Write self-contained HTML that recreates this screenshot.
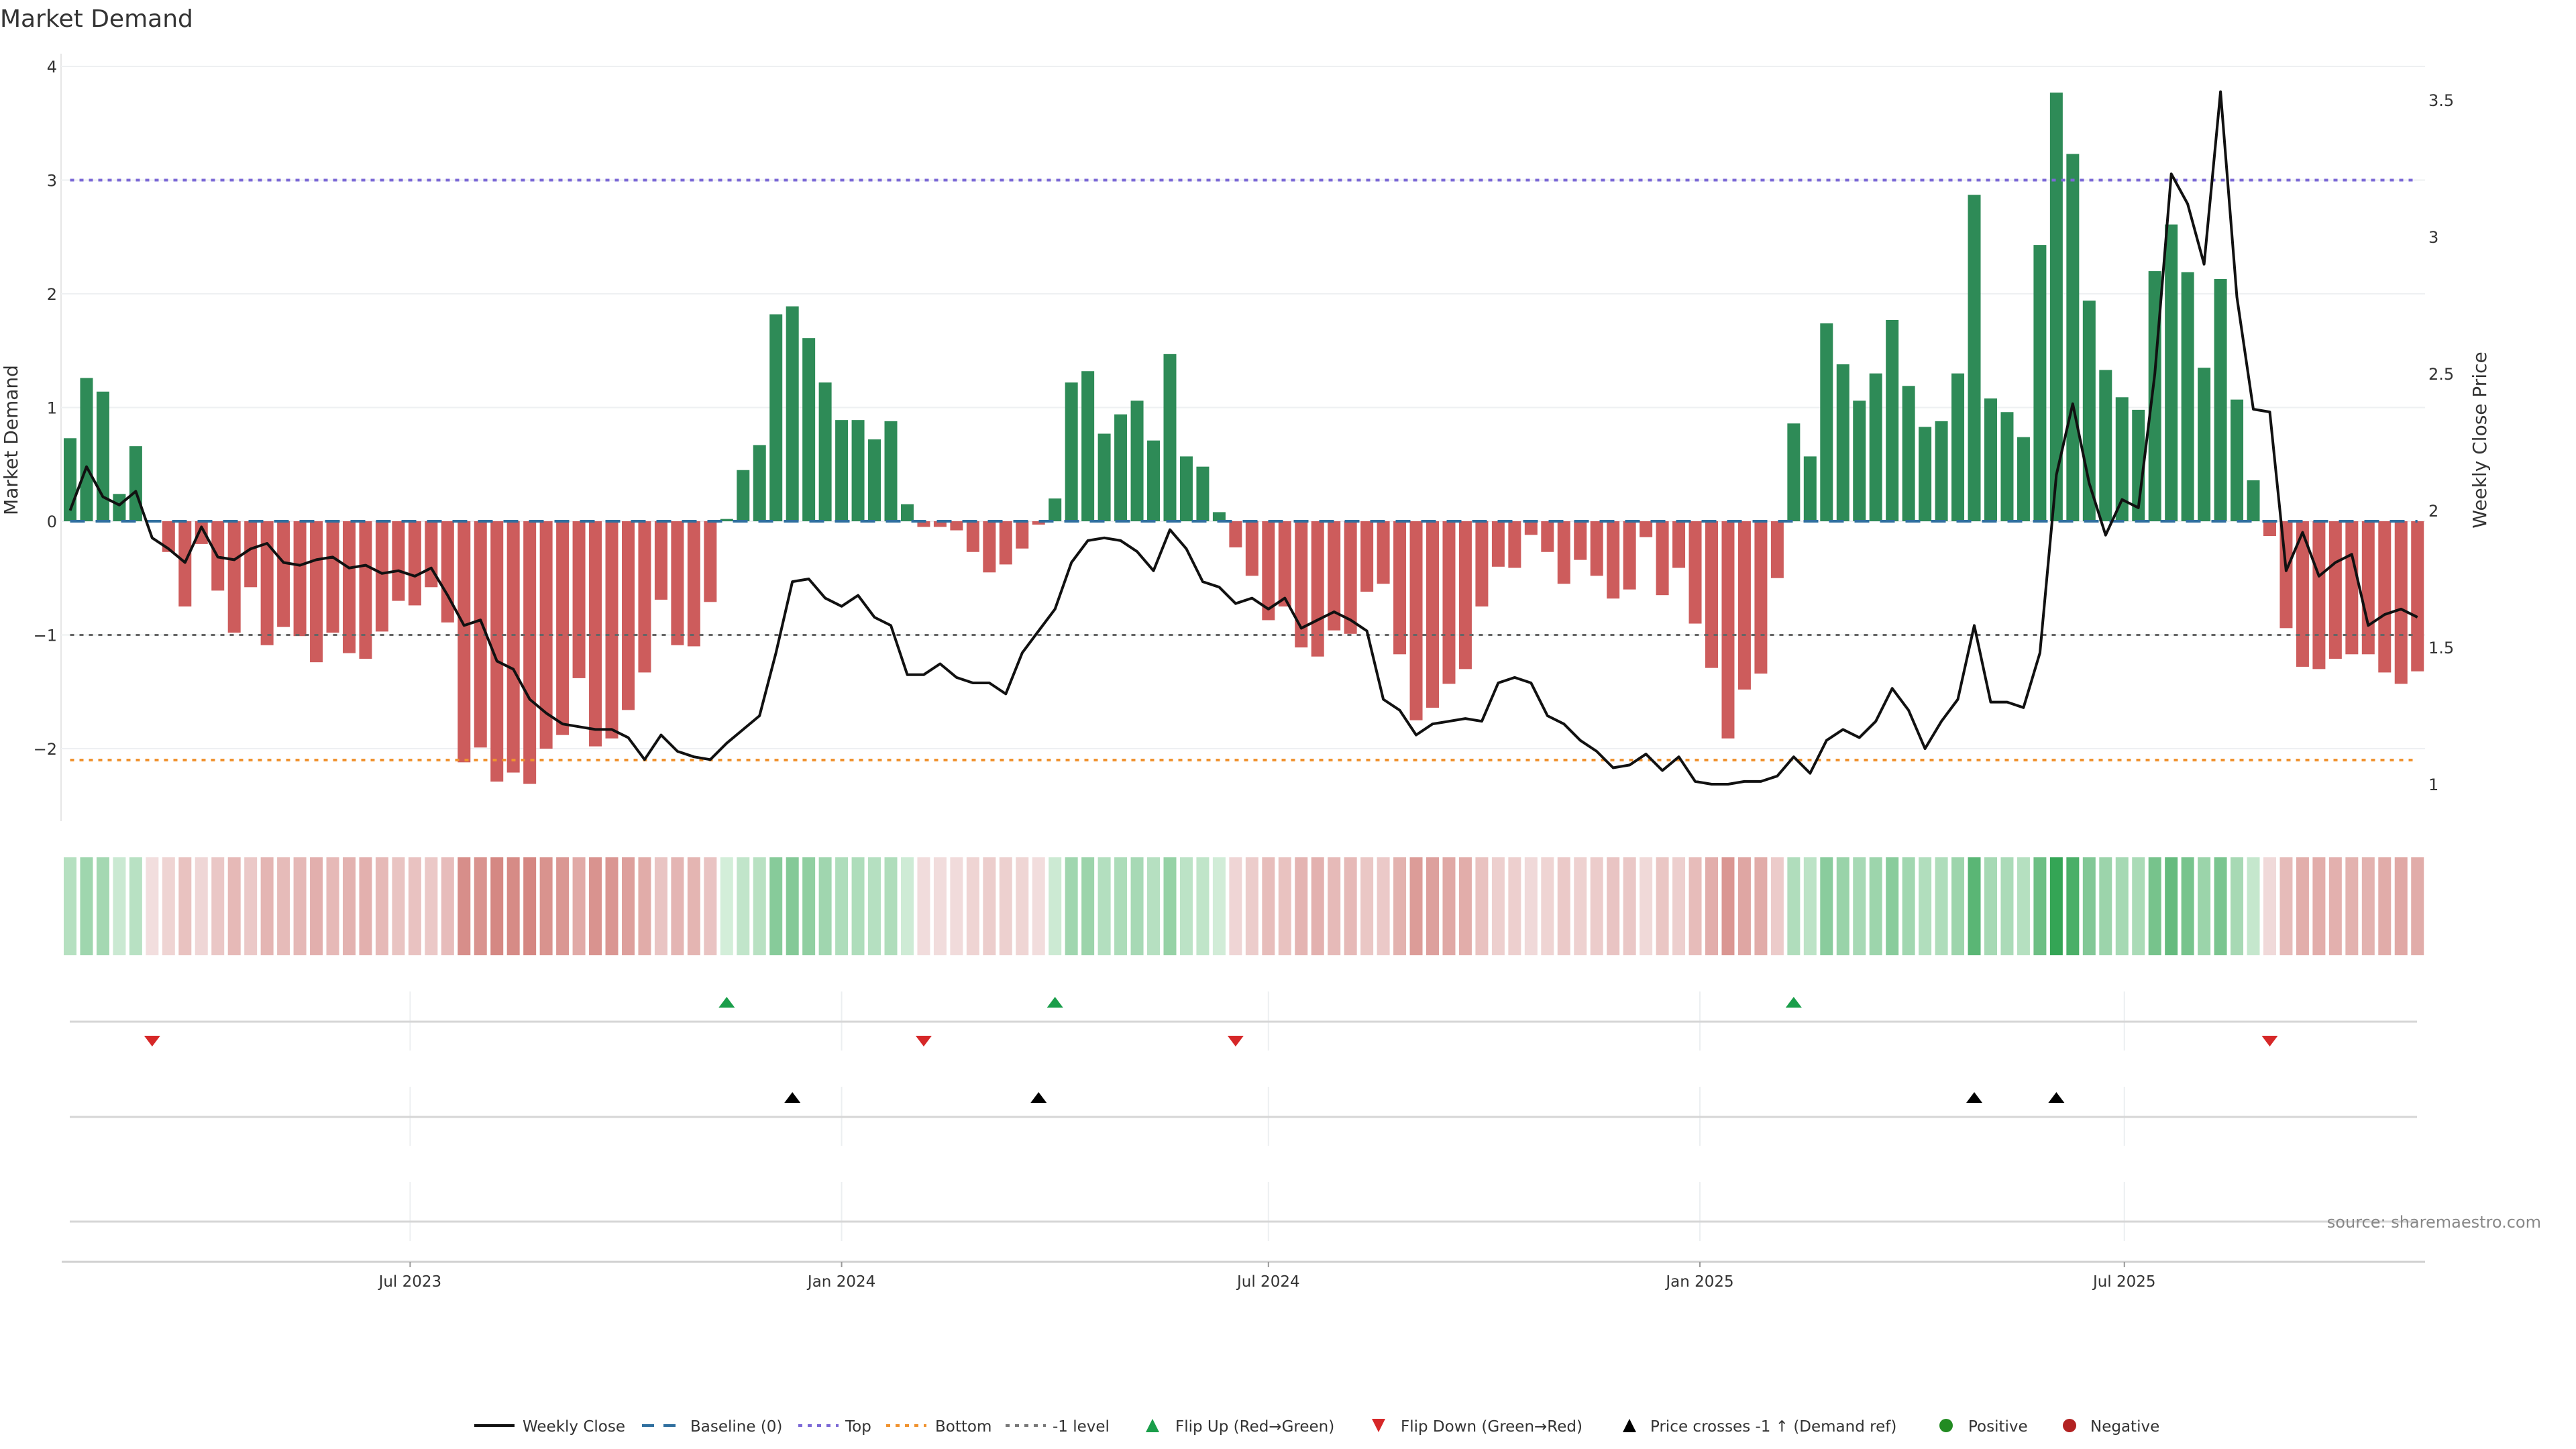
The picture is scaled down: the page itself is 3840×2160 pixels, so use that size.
<!DOCTYPE html>
<html><head><meta charset="utf-8"><title>Market Demand</title>
<style>
html,body{margin:0;padding:0;background:#fff;}
svg{display:block;font-family:"DejaVu Sans","Liberation Sans",sans-serif;}
</style></head>
<body>
<svg id="chart" width="3840" height="2160" viewBox="0 0 3840 2160" xmlns="http://www.w3.org/2000/svg">
<rect x="0" y="0" width="3840" height="2160" fill="#fff"/>
<text x="0" y="40" font-size="36" fill="#333">Market Demand</text>
<text transform="translate(26,656) rotate(-90)" text-anchor="middle" font-size="28" fill="#333">Market Demand</text>
<text transform="translate(3706,656) rotate(-90)" text-anchor="middle" font-size="28" fill="#333">Weekly Close Price</text>
<g id="grid"></g><g id="bars"></g><g id="refs"></g><g id="line"></g>
<g id="heat"></g><g id="panels"></g><g id="xaxis"></g>
<text x="3788" y="1830" text-anchor="end" font-size="24" fill="#888">source: sharemaestro.com</text>
<g id="legend"></g>
</svg>
<script>
const demand = [0.73,1.26,1.14,0.24,0.66,-0.01,-0.27,-0.75,-0.20,-0.61,-0.98,-0.58,-1.09,-0.93,-1.01,-1.24,-0.98,-1.16,-1.21,-0.97,
-0.70,-0.74,-0.58,-0.89,-2.12,-1.99,-2.29,-2.21,-2.31,-2.00,-1.88,-1.38,-1.98,-1.91,-1.66,-1.33,-0.69,-1.09,-1.10,-0.71,
0.02,0.45,0.67,1.82,1.89,1.61,1.22,0.89,0.89,0.72,0.88,0.15,-0.05,-0.05,-0.08,-0.27,-0.45,-0.38,-0.24,-0.03,
0.20,1.22,1.32,0.77,0.94,1.06,0.71,1.47,0.57,0.48,0.08,-0.23,-0.48,-0.87,-0.75,-1.11,-1.19,-0.96,-0.99,-0.62,
-0.55,-1.17,-1.75,-1.64,-1.43,-1.30,-0.75,-0.40,-0.41,-0.12,-0.27,-0.55,-0.34,-0.48,-0.68,-0.60,-0.14,-0.65,-0.41,-0.90,
-1.29,-1.91,-1.48,-1.34,-0.50,0.86,0.57,1.74,1.38,1.06,1.30,1.77,1.19,0.83,0.88,1.30,2.87,1.08,0.96,0.74,
2.43,3.77,3.23,1.94,1.33,1.09,0.98,2.20,2.61,2.19,1.35,2.13,1.07,0.36,-0.13,-0.94,-1.28,-1.30,-1.21,-1.17,
-1.17,-1.33,-1.43,-1.32];
const closePrice = [2.00,2.16,2.05,2.02,2.07,1.90,1.86,1.81,1.94,1.83,1.82,1.86,1.88,1.81,1.80,1.82,1.83,1.79,1.80,1.77,
1.78,1.76,1.79,1.69,1.58,1.60,1.45,1.42,1.31,1.26,1.22,1.21,1.20,1.20,1.17,1.09,1.18,1.12,1.10,1.09,
1.15,1.20,1.25,1.48,1.74,1.75,1.68,1.65,1.69,1.61,1.58,1.40,1.40,1.44,1.39,1.37,1.37,1.33,1.48,1.56,
1.64,1.81,1.89,1.90,1.89,1.85,1.78,1.93,1.86,1.74,1.72,1.66,1.68,1.64,1.68,1.57,1.60,1.63,1.60,1.56,
1.31,1.27,1.18,1.22,1.23,1.24,1.23,1.37,1.39,1.37,1.25,1.22,1.16,1.12,1.06,1.07,1.11,1.05,1.10,1.01,
1.00,1.00,1.01,1.01,1.03,1.10,1.04,1.16,1.20,1.17,1.23,1.35,1.27,1.13,1.23,1.31,1.58,1.30,1.30,1.28,
1.48,2.13,2.39,2.10,1.91,2.04,2.01,2.50,3.23,3.12,2.90,3.53,2.78,2.37,2.36,1.78,1.92,1.76,1.81,1.84,
1.58,1.62,1.64,1.61];
const flipUpIdx = [40,60,105];
const flipDownIdx = [5,52,71,134];
const crossIdx = [44,59,116,121];
const demandTicks = [4,3,2,1,0,-1,-2];
const priceTicks = [1,1.5,2,2.5,3,3.5];
const refLevels = [0,3,-2.1,-1];
const xTickLabels = ["Jul 2023","Jan 2024","Jul 2024","Jan 2025","Jul 2025"];
const xTickDates = ["2023-07-01","2024-01-01","2024-07-01","2025-01-01","2025-07-01"];
const firstWeek = "2023-02-06";

const NS="http://www.w3.org/2000/svg";
function mk(tag,attrs,parent){const e=document.createElementNS(NS,tag);for(const k in attrs)e.setAttribute(k,attrs[k]);parent.appendChild(e);return e;}
const X0=104.5, STEP=24.47;
function xIdx(i){return X0+i*STEP;}
function yD(v){return 777-v*169.5;}
function yP(p){return 1169-(p-1)*408;}
function xDate(s){const d=(new Date(s)-new Date(firstWeek))/86400000;return X0+d/7*STEP;}

const grid=document.getElementById('grid');
let sp=mk('line',{x1:91,y1:80,x2:91,y2:1224,stroke:'#e6e6e6','stroke-width':2},grid);


demandTicks.forEach(v=>{
  const l=mk('line',{x1:91,x2:3615,y1:yD(v),y2:yD(v),stroke:'#eef0f2','stroke-width':2},grid);
  
  
  const t=mk('text',{x:85,y:yD(v)+9,'text-anchor':'end','font-size':24,fill:'#333'},grid);
  t.textContent=v<0?'\u2212'+Math.abs(v):String(v);
  
  
});
priceTicks.forEach(p=>{
  const t=mk('text',{x:3620,y:yP(p)+9,'font-size':24,fill:'#333'},grid);
  t.textContent=String(p);
  
  
});

const bars=document.getElementById('bars');
demand.forEach((v,i)=>{
  const y0=yD(0),y1=yD(v);
  const r=mk('rect',{x:xIdx(i)-9.5,y:Math.min(y0,y1),width:19,height:Math.max(1,Math.abs(y1-y0)),fill:v>=0?'#2e8b57':'#cd5c5c'},bars);
  
  
});

const refs=document.getElementById('refs');
const refStyles=[{c:'#2f6f9f',d:'22 16',w:4,n:'baseline-zero-line'},{c:'#7b68d6',d:'6 8',w:4,n:'top-line'},{c:'#f0922e',d:'6 8',w:4,n:'bottom-line'},{c:'#666',d:'6 8',w:3,n:'minus-one-level-line'}];
refLevels.forEach((v,k)=>{
  const s=refStyles[k];
  const l=mk('line',{x1:xIdx(0),x2:xIdx(demand.length-1),y1:yD(v),y2:yD(v),stroke:s.c,'stroke-width':s.w,'stroke-dasharray':s.d},refs);
  
  
});

const lineG=document.getElementById('line');
const pts=closePrice.map((p,i)=>xIdx(i).toFixed(1)+','+yP(p).toFixed(1)).join(' ');
const pl=mk('polyline',{points:pts,fill:'none',stroke:'#111','stroke-width':4,'stroke-linejoin':'round'},lineG);



const heat=document.getElementById('heat');
const maxP=Math.max(...demand), maxN=Math.abs(Math.min(...demand));
function lerp(a,b,t){return Math.round(a+(b-a)*t);}
demand.forEach((v,i)=>{
  let c;
  if(v>=0){const t=v/maxP;c=`rgb(${lerp(212,52,t)},${lerp(238,165,t)},${lerp(218,85,t)})`;}
  else{const t=-v/maxN;c=`rgb(${lerp(242,213,t)},${lerp(222,135,t)},${lerp(222,130,t)})`;}
  const r=mk('rect',{x:xIdx(i)-9.5,y:1278,width:19,height:146,fill:c},heat);
  
  
});

const panels=document.getElementById('panels');
[[1478,1566],[1620,1708],[1762,1850]].forEach(seg=>{
  xTickDates.forEach(d=>{
    const l=mk('line',{x1:xDate(d),x2:xDate(d),y1:seg[0],y2:seg[1],stroke:'#eceff1','stroke-width':2},panels);
    
    
  });
});
[1523,1665,1821].forEach(y=>{
  const l=mk('line',{x1:104,x2:3603,y1:y,y2:y,stroke:'#d6d6d6','stroke-width':3},panels);
  
  
});
function tri(x,yTop,up,color,name){
  const p=up?`${x-12},${yTop+16} ${x+12},${yTop+16} ${x},${yTop}`:`${x-12},${yTop} ${x+12},${yTop} ${x},${yTop+16}`;
  const e=mk('polygon',{points:p,fill:color},panels);
  
  
}
flipUpIdx.forEach(i=>tri(xIdx(i),1486,true,'#1a9e4a','flip-up-marker'));
flipDownIdx.forEach(i=>tri(xIdx(i),1544,false,'#d62728','flip-down-marker'));
crossIdx.forEach(i=>tri(xIdx(i),1628,true,'#000','price-cross-marker'));

const xa=document.getElementById('xaxis');
let ax=mk('line',{x1:92,x2:3615,y1:1881,y2:1881,stroke:'#d0d0d0','stroke-width':3},xa);


xTickLabels.forEach((lab,k)=>{
  const x=xDate(xTickDates[k]);
  const tk=mk('line',{x1:x,x2:x,y1:1881,y2:1889,stroke:'#999','stroke-width':2},xa);
  
  
  const t=mk('text',{x:x,y:1918,'text-anchor':'middle','font-size':23,fill:'#333'},xa);
  t.textContent=lab;
  
  
});

const lg=document.getElementById('legend');
const LY=2125;
function ltext(x,s){const t=mk('text',{x:x,y:LY+9,'font-size':23,fill:'#333'},lg);t.textContent=s;}
function lline(x,c,d,n){const l=mk('line',{x1:x,x2:x+60,y1:LY,y2:LY,stroke:c,'stroke-width':4,'stroke-dasharray':d},lg);}
lline(707,'#111','none','legend-weekly-close');ltext(779,'Weekly Close');
lline(957,'#2f6f9f','18 14','legend-baseline');ltext(1029,'Baseline (0)');
lline(1190,'#7b68d6','6 8','legend-top');ltext(1260,'Top');
lline(1321,'#f0922e','6 8','legend-bottom');ltext(1394,'Bottom');
lline(1499,'#777','6 8','legend-minus-one');ltext(1569,'-1 level');
function ltri(x,up,c,n){const p=up?`${x-10},${LY+10} ${x+10},${LY+10} ${x},${LY-10}`:`${x-10},${LY-10} ${x+10},${LY-10} ${x},${LY+10}`;const e=mk('polygon',{points:p,fill:c},lg);}
ltri(1718,true,'#1a9e4a','legend-flip-up');ltext(1752,'Flip Up (Red\u2192Green)');
ltri(2055,false,'#d62728','legend-flip-down');ltext(2088,'Flip Down (Green\u2192Red)');
ltri(2429,true,'#000','legend-price-cross');ltext(2460,'Price crosses -1 \u2191 (Demand ref)');
function ldot(x,c,n){const e=mk('circle',{cx:x,cy:LY,r:10,fill:c},lg);}
ldot(2901,'#228b22','legend-positive');ltext(2934,'Positive');
ldot(3085,'#b22222','legend-negative');ltext(3116,'Negative');
</script>
</body></html>
